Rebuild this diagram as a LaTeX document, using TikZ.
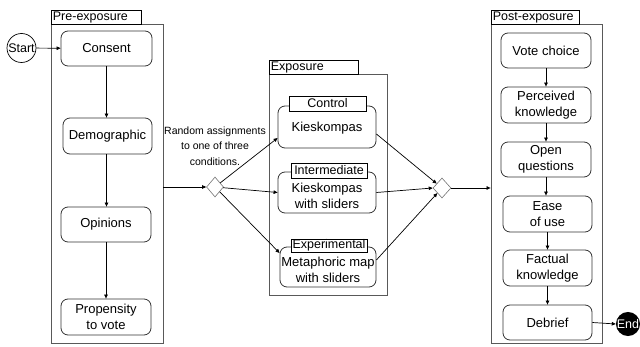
\documentclass[tikz,border=0pt]{standalone}
\usepackage{fontspec}
\setmainfont{Liberation Sans}
\usetikzlibrary{shapes.geometric,arrows.meta}
\begin{document}
\begin{tikzpicture}[x=1pt,y=-1pt,
 panel/.style={draw=black!65, line width=0.8pt, inner sep=0pt},
 tag/.style={draw, fill=white, line width=0.8pt, inner xsep=1.5pt, inner ysep=0pt, anchor=north west, align=left, font=\fontsize{12.5}{14}\selectfont},
 subtag/.style={draw, fill=white, line width=0.8pt, inner sep=0pt, font=\fontsize{12.5}{14}\selectfont},
 rbox/.style={draw=black!80, rounded corners=7pt, line width=0.8pt, align=center, inner sep=0pt, font=\fontsize{13}{16}\selectfont},
 arr/.style={-{Triangle[length=4pt,width=3.5pt]}, line width=0.7pt},
 dia/.style={diamond, draw=black!55, inner sep=0pt, minimum width=17pt, minimum height=20pt, line width=0.6pt}]
\useasboundingbox (0,0) rectangle (640,347);
% panels
\node[panel, minimum width=112pt, minimum height=319pt] (pre) at (107,183.5) {};
\node[panel, minimum width=118pt, minimum height=221pt] (exp) at (328,184.5) {};
\node[panel, minimum width=111pt, minimum height=319pt] (post) at (546.5,183.5) {};
\node[tag, minimum width=90pt, minimum height=14pt, text width=87pt] (pret) at (51,10) {Pre-exposure};
\node[tag, minimum width=89pt, minimum height=14pt, text width=86pt] (expt) at (269,60) {Exposure};
\node[tag, minimum width=88pt, minimum height=14pt, text width=85pt] (postt) at (491,10) {Post-exposure};
% start / end
\node[circle, draw, line width=0.7pt, minimum size=29pt, inner sep=0pt, font=\fontsize{12.5}{14}\selectfont] (start) at (21.5,48) {Start};
\node[circle, fill=black, text=white, minimum size=24pt, inner sep=0pt, font=\fontsize{12.5}{14}\selectfont] (end) at (628,324) {End};
% pre boxes
\node[rbox, minimum width=91pt, minimum height=35pt] (consent) at (106.5,48.5) {Consent};
\node[rbox, minimum width=89pt, minimum height=36pt] (demo) at (107.5,136) {Demographic};
\node[rbox, minimum width=90pt, minimum height=35pt] (opin) at (106,224.5) {Opinions};
\node[rbox, minimum width=90pt, minimum height=36pt] (prop) at (106,317) {Propensity\\to vote};
% exposure boxes
\node[rbox, minimum width=98pt, minimum height=42pt, text depth=-4pt] (ctrl) at (327,127) {Kieskompas};
\node[rbox, minimum width=98pt, minimum height=41pt] (inter) at (327,192.5) {\vphantom{X}\\[-9pt]Kieskompas\\with sliders};
\node[rbox, minimum width=96pt, minimum height=40pt] (expm) at (328,267) {\vphantom{X}\\[-9pt]Metaphoric map\\with sliders};
\node[subtag, minimum width=77pt, minimum height=15pt] (ctrlt) at (327.5,103.5) {Control};
\node[subtag, minimum width=76pt, minimum height=15pt] (intert) at (329,170.5) {Intermediate};
\node[subtag, minimum width=76pt, minimum height=13pt] (expmt) at (329,245.5) {Experimental};
% post boxes
\node[rbox, minimum width=90pt, minimum height=35pt] (vote) at (546,50.5) {Vote choice};
\node[rbox, minimum width=90pt, minimum height=36pt] (perc) at (546,105) {Perceived\\knowledge};
\node[rbox, minimum width=90pt, minimum height=35pt] (openq) at (546,159.5) {Open\\questions};
\node[rbox, minimum width=89pt, minimum height=36pt] (ease) at (547.5,214) {Ease\\of use};
\node[rbox, minimum width=89pt, minimum height=36pt] (fact) at (547.5,268) {Factual\\knowledge};
\node[rbox, minimum width=89pt, minimum height=35pt] (debr) at (547.5,322.5) {Debrief};
% diamonds
\node[dia] (d1) at (215,187) {};
\node[dia, minimum width=18pt] (d2) at (442,188) {};
% text
\node[align=center, font=\fontsize{10.5}{15.5}\selectfont, inner sep=0pt] (rtext) at (215,146) {Random assignments\\to one of three\\conditions.};
% connectors
\draw[arr] (start) -- (consent);
\draw[arr] (consent.south) -- (consent.south |- demo.north);
\draw[arr] (demo.south -| consent.south) -- (consent.south |- opin.north);
\draw[arr] (opin.south) -- (prop.north);
\draw[arr] (pre.east |- d1) -- (d1.west);
\draw[arr] (d1) -- (ctrl.west |- 0,138);
\draw[arr] (d1) -- (inter.west);
\draw[arr] (d1) -- (expm.west |- 0,253);
\draw[arr] (ctrl.east |- 0,134) -- (d2);
\draw[arr] (inter.east) -- (d2.west);
\draw[arr] (expm.east |- 0,260) -- (d2);
\draw[arr] (d2.east) -- (post.west |- d2);
\draw[arr] (vote.south) -- (vote.south |- perc.north);
\draw[arr] (perc.south) -- (perc.south |- openq.north);
\draw[arr] (openq.south) -- (openq.south |- ease.north);
\draw[arr] (ease.south) -- (fact.north);
\draw[arr] (fact.south) -- (debr.north);
\draw[arr] (debr.east) -- (end.west);
\end{tikzpicture}
\end{document}
